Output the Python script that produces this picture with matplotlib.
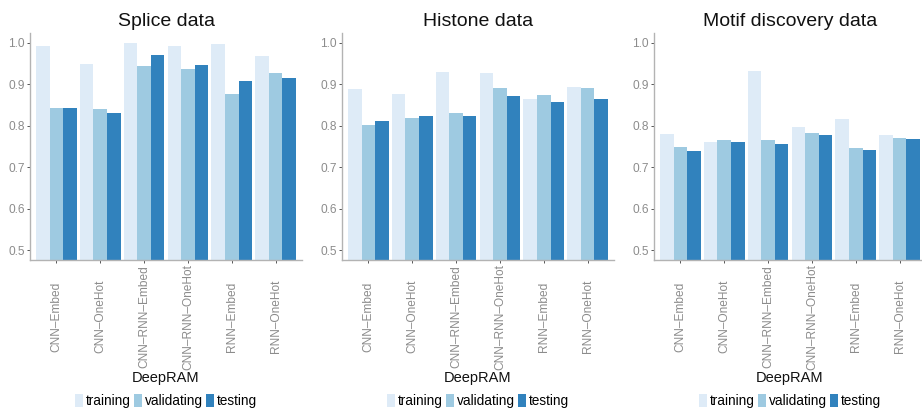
import matplotlib
matplotlib.use("Agg")
import matplotlib.pyplot as plt
from matplotlib.patches import Patch
import numpy as np

plt.rcParams['font.family'] = ['Liberation Sans', 'DejaVu Sans']

models = ["CNN–Embed", "CNN–OneHot", "CNN–RNN–Embed", "CNN–RNN–OneHot",
          "RNN–Embed", "RNN–OneHot"]
splits = ["training", "validating", "testing"]
colors = ["#deebf7", "#9ecae1", "#3182bd"]

splice_train = [0.993, 0.950, 1.001, 0.993, 0.998, 0.969]
splice_valid = [0.843, 0.841, 0.945, 0.938, 0.877, 0.928]
splice_test = [0.843, 0.831, 0.972, 0.947, 0.909, 0.916]

histone_train = [0.889, 0.877, 0.931, 0.928, 0.865, 0.894]
histone_valid = [0.802, 0.819, 0.831, 0.892, 0.875, 0.892]
histone_test = [0.812, 0.824, 0.824, 0.873, 0.858, 0.865]

motif_train = [0.781, 0.761, 0.933, 0.798, 0.817, 0.778]
motif_valid = [0.749, 0.766, 0.766, 0.783, 0.747, 0.771]
motif_test = [0.740, 0.761, 0.756, 0.778, 0.742, 0.769]

panels = [
    ("Splice data", [splice_train, splice_valid, splice_test]),
    ("Histone data", [histone_train, histone_valid, histone_test]),
    ("Motif discovery data", [motif_train, motif_valid, motif_test]),
]

W, H = 922, 409
fig = plt.figure(figsize=(W / 100, H / 100), dpi=100)

ax_lefts = [30, 342, 654]
ax_w, ax_top, ax_bottom = 272, 33, 260
bar_w = 0.31
x = np.arange(len(models))
tick_grey = "#8c8c8c"
spine_grey = "#b3b3b3"

for left, (title, series) in zip(ax_lefts, panels):
    ax = fig.add_axes([left / W, (H - ax_bottom) / H, ax_w / W,
                       (ax_bottom - ax_top) / H])
    for i, (vals, col) in enumerate(zip(series, colors)):
        ax.bar(x + (i - 1) * bar_w, vals, width=bar_w, color=col,
               linewidth=0, zorder=2)
    ax.set_xlim(-0.6, len(models) - 0.4)
    ax.set_ylim(0.476, 1.024)
    ax.set_yticks([0.5, 0.6, 0.7, 0.8, 0.9, 1.0])
    ax.set_yticklabels(["0.5", "0.6", "0.7", "0.8", "0.9", "1.0"])
    ax.set_xticks(x)
    ax.set_xticklabels(models, rotation=90, ha="center", va="center")
    ax.tick_params(axis="x", length=2.2, width=0.7, color="#555555",
                   pad=38.5, labelsize=8.6, labelcolor=tick_grey)
    ax.tick_params(axis="y", length=2.2, width=0.7, color="#555555",
                   pad=1.5, labelsize=8.6, labelcolor=tick_grey)
    for s in ["top", "right"]:
        ax.spines[s].set_visible(False)
    for s in ["left", "bottom"]:
        ax.spines[s].set_color(spine_grey)
        ax.spines[s].set_linewidth(1.0)
    ax.set_title(title, fontsize=14, pad=5, color="#111111")
    ax.set_xlabel("DeepRAM", fontsize=10.5, va="center", color="#111111")
    ax.xaxis.set_label_coords(0.5, (ax_bottom - 378) / (ax_bottom - ax_top))
    handles = [Patch(facecolor=c, edgecolor="none", label=l)
               for c, l in zip(colors, splits)]
    ax.legend(handles=handles, loc="center", ncol=3, frameon=False,
              bbox_to_anchor=(0.5, (ax_bottom - 401) / (ax_bottom - ax_top)),
              fontsize=9.8, handlelength=0.6, handleheight=1.1,
              handletextpad=0.2, columnspacing=0.25, borderpad=0,
              borderaxespad=0)

fig.savefig("out.png", dpi=100)
